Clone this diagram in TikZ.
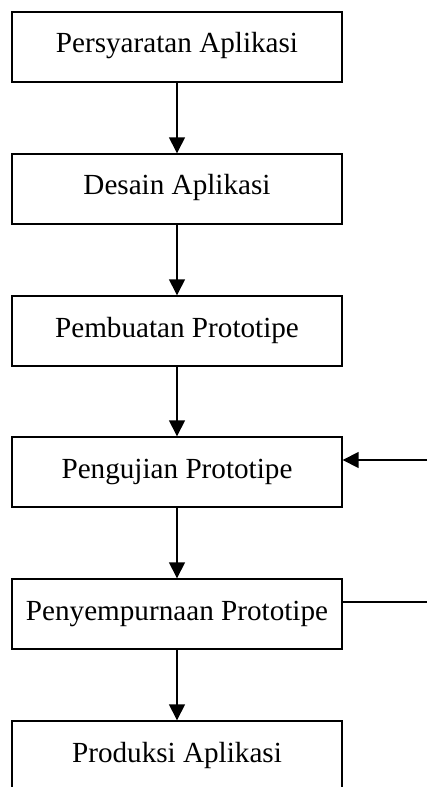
\documentclass[tikz,border=0pt]{standalone}
\usepackage{fontspec}
\setmainfont{Liberation Serif}
\usetikzlibrary{arrows.meta}
\tikzset{stage/.style={draw, line width=0.8pt, minimum width=6.6cm, minimum height=1.4cm,
    text height=0.42cm, text depth=0.18cm, inner sep=0pt, font=\fontsize{16.6}{20}\selectfont},
  flow/.style={line width=0.8pt, -{Triangle[length=0.32cm,width=0.32cm]}}}

\begin{document}
\begin{tikzpicture}[x=0.02cm, y=-0.02cm]
  \useasboundingbox (0,0) rectangle (427,787);
  \clip (0,0) rectangle (427,787);
  % tahapan
  \foreach \i/\y/\txt in {1/47/Persyaratan Aplikasi, 2/189/Desain Aplikasi, 3/331/Pembuatan Prototipe,
      4/472/Pengujian Prototipe, 5/614/Penyempurnaan Prototipe, 6/756/Produksi Aplikasi}
     \node[stage] (s\i) at (177,\y) {\txt};
  \foreach \a/\b in {1/2, 2/3, 3/4, 4/5, 5/6}
     \draw[flow] (s\a) -- (s\b);
  % umpan balik
  \coordinate (back1) at (427,460);
  \coordinate (back2) at (427,602);
  \draw[line width=0.8pt] (back2 -| s5.east) -- (back2);
  \draw[flow] (back1) -- (back1 -| s4.east);
\end{tikzpicture}
\end{document}
